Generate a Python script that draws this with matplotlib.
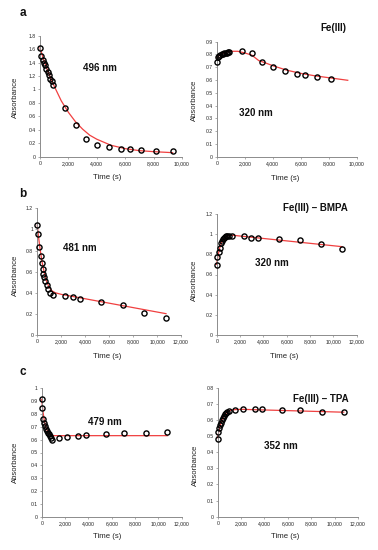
import matplotlib
matplotlib.use("Agg")
import matplotlib.pyplot as plt
from matplotlib.ticker import FuncFormatter, MultipleLocator
import numpy as np

# ---------------- data ----------------
# panel a, left (496 nm)
a1_t = [0, 90, 180, 270, 360, 450, 540, 630, 720, 810, 900,
        1780, 2520, 3220, 3980, 4880, 5700, 6320, 7140, 8170, 9340]
a1_y = [1.62, 1.50, 1.44, 1.40, 1.36, 1.31, 1.26, 1.21, 1.16, 1.12, 1.07,
        0.73, 0.47, 0.26, 0.18, 0.14, 0.12, 0.115, 0.10, 0.09, 0.08]
a1_fit_t = [0, 250, 500, 750, 1000, 1500, 2000, 2500, 3000, 3500, 4000, 5000, 6000, 7000, 8000, 9340]
a1_fit_y = [1.62, 1.45, 1.30, 1.17, 1.05, 0.83, 0.66, 0.52, 0.41, 0.32, 0.26, 0.17, 0.12, 0.09, 0.075, 0.06]

# panel a, right (320 nm, Fe(III))
a2_t = [0, 90, 180, 270, 360, 450, 540, 630, 720, 810, 900,
        1780, 2520, 3220, 3980, 4880, 5700, 6320, 7140, 8170]
a2_y = [0.744, 0.781, 0.789, 0.795, 0.800, 0.804, 0.808, 0.812, 0.815, 0.818, 0.820,
        0.827, 0.810, 0.739, 0.700, 0.671, 0.648, 0.640, 0.624, 0.606]
a2_fit_t = [0, 100, 300, 600, 1000, 1500, 2000, 2500, 3000, 3500, 4000, 5000, 6000, 7000, 8000, 9340]
a2_fit_y = [0.775, 0.785, 0.800, 0.815, 0.825, 0.825, 0.812, 0.795, 0.752, 0.733, 0.712, 0.677, 0.652, 0.633, 0.618, 0.598]

# panel b, left (481 nm)
b1_t = [0, 60, 170, 280, 390, 450, 510, 590, 670, 780, 890, 1060, 1340,
        2350, 2950, 3550, 5350, 7150, 8950, 10750]
b1_y = [1.04, 0.957, 0.833, 0.748, 0.682, 0.625, 0.58, 0.546, 0.51, 0.474, 0.44, 0.40, 0.379,
        0.373, 0.357, 0.338, 0.313, 0.287, 0.205, 0.164]
b1_fit_t = [0, 100, 250, 400, 600, 800, 1000, 1200, 1500, 2000, 10750]
b1_fit_y = [1.04, 0.93, 0.80, 0.69, 0.58, 0.50, 0.45, 0.42, 0.40, 0.385, 0.202]

# panel b, right (320 nm, Fe(III) - BMPA)
b2_t = [0, 60, 170, 280, 390, 450, 510, 590, 670, 780, 890, 1060, 1340,
        2350, 2950, 3550, 5350, 7150, 8950, 10750]
b2_y = [0.694, 0.77, 0.826, 0.866, 0.909, 0.936, 0.952, 0.965, 0.972, 0.978, 0.980, 0.982, 0.982,
        0.978, 0.965, 0.959, 0.949, 0.942, 0.906, 0.853]
b2_fit_t = [0, 100, 250, 400, 600, 800, 1000, 1300, 10750]
b2_fit_y = [0.70, 0.78, 0.86, 0.915, 0.955, 0.975, 0.985, 0.99, 0.876]

# panel c, left (479 nm)
c1_t = [0, 40, 90, 170, 260, 340, 430, 510, 600, 690, 770, 860,
        1450, 2200, 3150, 3830, 5530, 7080, 8960, 10780]
c1_y = [0.91, 0.84, 0.756, 0.725, 0.704, 0.684, 0.666, 0.65, 0.64, 0.63, 0.614, 0.60,
        0.612, 0.62, 0.627, 0.632, 0.643, 0.65, 0.65, 0.656]
c1_fit_t = [0, 100, 200, 300, 400, 500, 600, 750, 900, 1100, 10780]
c1_fit_y = [0.91, 0.82, 0.76, 0.715, 0.685, 0.665, 0.65, 0.64, 0.632, 0.63, 0.63]

# panel c, right (352 nm, Fe(III) - TPA)
c2_t = [0, 40, 110, 200, 290, 370, 460, 540, 630, 710, 800, 940,
        1450, 2200, 3150, 3830, 5530, 7080, 8960, 10780]
c2_y = [0.482, 0.527, 0.548, 0.568, 0.583, 0.60, 0.614, 0.626, 0.635, 0.641, 0.647, 0.655,
        0.661, 0.67, 0.666, 0.666, 0.664, 0.66, 0.651, 0.647]
c2_fit_t = [0, 100, 200, 300, 400, 500, 600, 800, 1000, 1300, 2000, 10780]
c2_fit_y = [0.49, 0.53, 0.56, 0.585, 0.605, 0.62, 0.632, 0.648, 0.657, 0.663, 0.666, 0.648]

# ---------------- figure ----------------
W, H = 378, 550
plt.rcParams['font.family'] = ['Liberation Sans', 'DejaVu Sans']
fig = plt.figure(figsize=(W / 100, H / 100), dpi=100)
fig.patch.set_facecolor('white')

RED = '#f04040'
GREY = '#8c8c8c'


def add_panel(box, xmax, xstep, ymax, ystep, t, y, ft, fy):
    l, r, b, tp = box
    ax = fig.add_axes([l / W, 1 - b / H, (r - l) / W, (b - tp) / H])
    ax.plot(ft, fy, color=RED, lw=0.9, zorder=2, clip_on=False)
    ax.plot(t, y, 'o', mfc='none', mec='black', mew=1.0, ms=3.7, zorder=3, clip_on=False)
    ax.set_xlim(0, xmax)
    ax.set_ylim(0, ymax)
    ax.xaxis.set_major_locator(MultipleLocator(xstep))
    ax.yaxis.set_major_locator(MultipleLocator(ystep))
    ax.xaxis.set_major_formatter(FuncFormatter(lambda v, p: f'{v:,.0f}'))
    ax.yaxis.set_major_formatter(FuncFormatter(lambda v, p: f'{round(v, 2):g}'))
    for s in ['top', 'right']:
        ax.spines[s].set_visible(False)
    for s in ['left', 'bottom']:
        ax.spines[s].set_color(GREY)
        ax.spines[s].set_linewidth(0.7)
    ax.tick_params(length=1.5, width=0.5, color=GREY, labelsize=3.7, pad=1.5,
                   labelcolor='#222222')
    ax.patch.set_alpha(0)
    return ax


def px_text(x, y, s, **kw):
    fig.text(x / W, 1 - y / H, s, ha='center', va='center', **kw)


add_panel((40, 182, 156.7, 35.7), 10000, 2000, 1.8, 0.2, a1_t, a1_y, a1_fit_t, a1_fit_y)
add_panel((216.7, 357, 156.7, 41.7), 10000, 2000, 0.9, 0.1, a2_t, a2_y, a2_fit_t, a2_fit_y)
add_panel((37.3, 181, 335, 208.3), 12000, 2000, 1.2, 0.2, b1_t, b1_y, b1_fit_t, b1_fit_y)
add_panel((216.7, 356.7, 335, 214), 12000, 2000, 1.2, 0.2, b2_t, b2_y, b2_fit_t, b2_fit_y)
add_panel((41.7, 181.7, 517.3, 387.7), 12000, 2000, 1.0, 0.1, c1_t, c1_y, c1_fit_t, c1_fit_y)
add_panel((217.7, 358, 516.7, 387.7), 12000, 2000, 0.8, 0.1, c2_t, c2_y, c2_fit_t, c2_fit_y)

# axis titles
lab = dict(fontsize=5.6, color='#222222')
for x, y in [(107, 177.5), (285, 178), (107, 356), (284, 356), (107, 536), (285, 536)]:
    px_text(x, y, 'Time (s)', **lab)
for x, y in [(15, 97), (194, 100), (15, 275), (194, 280), (15, 462), (195, 465)]:
    px_text(x, y, 'Absorbance', rotation=90, **lab)

# annotations
ann = dict(fontsize=7, fontweight='bold', color='#111111')
px_text(100, 68, '496 nm', **ann)
px_text(333, 28, 'Fe(III)', **ann)
px_text(256, 113, '320 nm', **ann)
px_text(80, 248, '481 nm', **ann)
px_text(315, 208, 'Fe(III) – BMPA', **ann)
px_text(272, 263, '320 nm', **ann)
px_text(105, 422, '479 nm', **ann)
px_text(321, 399, 'Fe(III) – TPA', **ann)
px_text(281, 446, '352 nm', **ann)

# panel letters
let = dict(fontsize=8.5, fontweight='bold', color='#111111')
px_text(23, 13, 'a', **let)
px_text(23, 194, 'b', **let)
px_text(23, 372, 'c', **let)

plt.savefig('out.png', dpi=100)
